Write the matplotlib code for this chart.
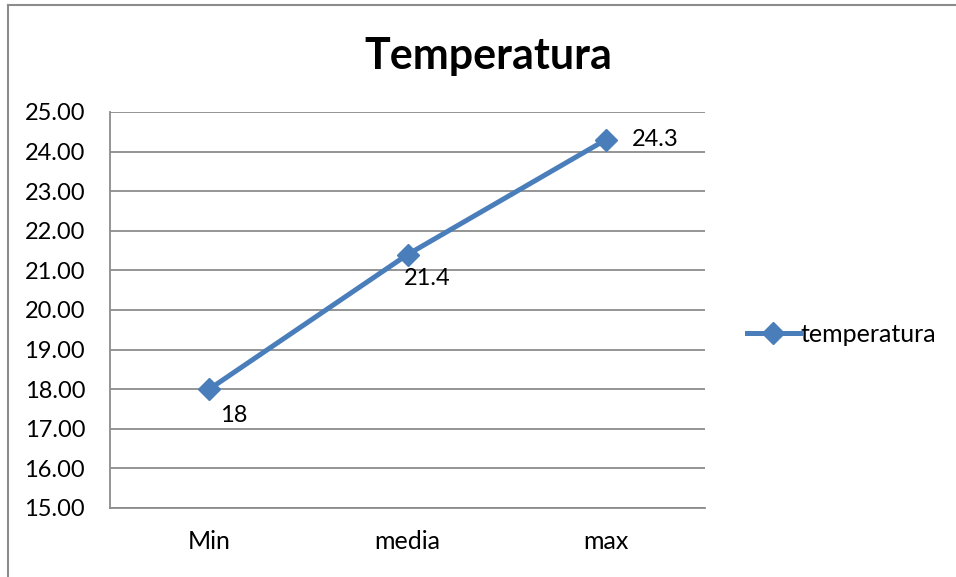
import matplotlib.pyplot as plt
from matplotlib.lines import Line2D

categories = ['Min', 'media', 'max']
temperatura = [18, 21.4, 24.3]
value_labels = ['18', '21.4', '24.3']

plt.rcParams['font.family'] = ['Lato', 'DejaVu Sans']

fig = plt.figure(figsize=(9.56, 5.77), dpi=100)
ax = fig.add_axes([0.1151, 0.1196, 0.6224, 0.6863])

blue = '#4A7EBB'
x = list(range(len(categories)))
ax.plot(x, temperatura, color=blue, linewidth=3.6, marker='D', markersize=11,
        label='temperatura', zorder=3)

# data labels next to each point
offsets = [(8, -19), (-3, -17), (19, 0)]
for xi, yi, txt, off in zip(x, temperatura, value_labels, offsets):
    ax.annotate(txt, (xi, yi), xytext=off, textcoords='offset points',
                fontsize=17, va='center', ha='left')

ax.set_xlim(-0.5, 2.5)
ax.set_ylim(15, 25)
ax.set_yticks(range(15, 26))
ax.set_yticklabels([f'{v:.2f}' for v in range(15, 26)])
ax.set_xticks(x)
ax.set_xticklabels(categories)
ax.tick_params(axis='y', length=0, labelsize=17, pad=18)
ax.tick_params(axis='x', length=0, labelsize=18, pad=16)
ax.grid(axis='y', color='#8c8c8c', linewidth=1.3)
ax.set_axisbelow(True)
for side in ['top', 'right']:
    ax.spines[side].set_visible(False)
for side in ['left', 'bottom']:
    ax.spines[side].set_color('#8c8c8c')
    ax.spines[side].set_linewidth(1.3)

fig.suptitle('Temperatura', fontsize=31, fontweight='bold', x=0.511, y=0.937)

fig.legend(loc='center left', bbox_to_anchor=(0.758, 0.421), frameon=False,
           fontsize=18, handlelength=2.1, handletextpad=0.05)

# chart border (left and top edges)
fig.add_artist(Line2D([0.0088, 0.0088], [0, 0.991], transform=fig.transFigure,
                      color='#8c8c8c', linewidth=1.5))
fig.add_artist(Line2D([0.0088, 1], [0.991, 0.991], transform=fig.transFigure,
                      color='#8c8c8c', linewidth=1.5))

fig.savefig('out.png', dpi=100)
